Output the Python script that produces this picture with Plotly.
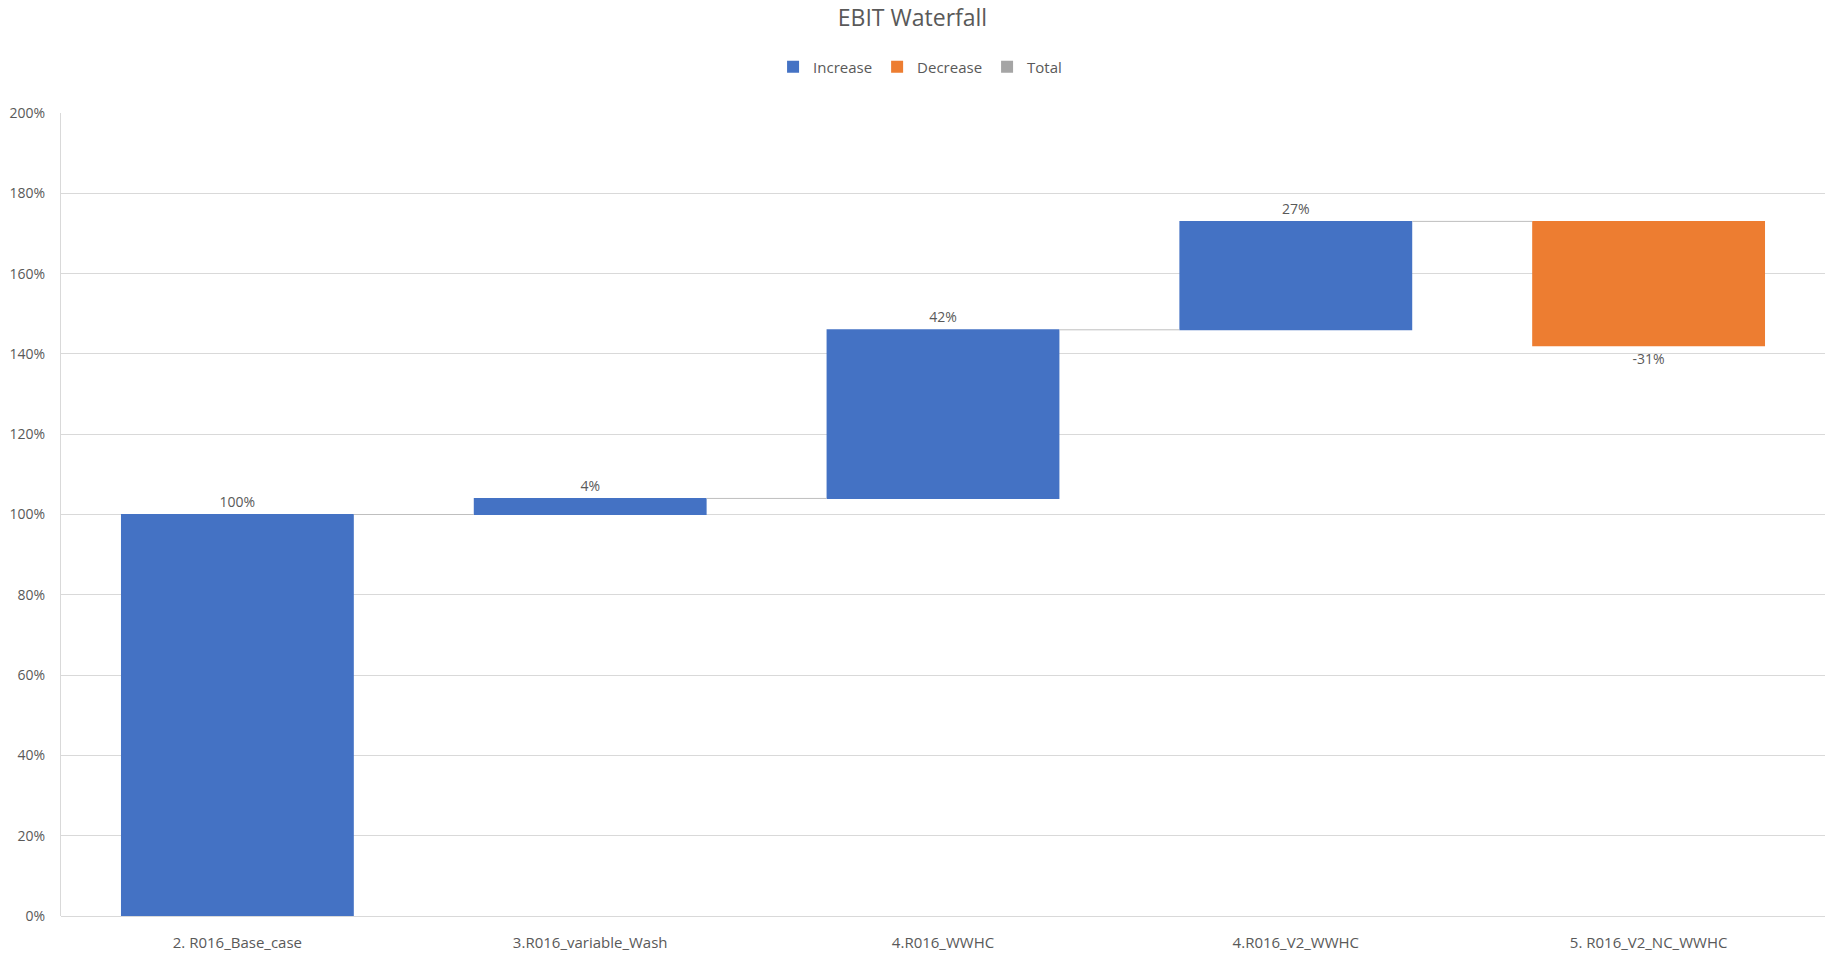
import plotly.graph_objects as go

# EBIT bridge: base case followed by scenario deltas (in %)
categories = ["2. R016_Base_case", "3.R016_variable_Wash", "4.R016_WWHC",
              "4.R016_V2_WWHC", "5. R016_V2_NC_WWHC"]
deltas = [100, 4, 42, 27, -31]
measures = ["relative", "relative", "relative", "relative", "relative"]
labels = [f"{v}%" for v in deltas]

legend_names = ["Increase", "Decrease", "Total"]
legend_colors = ["#4472C4", "#ED7D31", "#A5A5A5"]

FONT = "'Open Sans', Lato, sans-serif"
TEXT_GREY = "#595959"
GRID = "#D9D9D9"

fig = go.Figure()

fig.add_trace(go.Waterfall(
    x=categories,
    y=deltas,
    measure=measures,
    text=labels,
    textposition="outside",
    textfont=dict(family=FONT, size=14, color=TEXT_GREY),
    increasing=dict(marker=dict(color=legend_colors[0])),
    decreasing=dict(marker=dict(color=legend_colors[1])),
    totals=dict(marker=dict(color=legend_colors[2])),
    connector=dict(line=dict(color="#BFBFBF", width=1)),
    showlegend=False,
    hoverinfo="x+text",
    cliponaxis=False,
))

# legend keys in the style of the spreadsheet chart
for name, color in zip(legend_names, legend_colors):
    fig.add_trace(go.Scatter(
        x=[None], y=[None], mode="markers", name=name,
        marker=dict(symbol="square", size=12, color=color),
    ))

fig.update_layout(
    width=1825, height=954,
    paper_bgcolor="white", plot_bgcolor="white",
    margin=dict(l=61, r=0, t=113, b=38),
    waterfallgap=0.34,
    font=dict(family=FONT, color=TEXT_GREY, size=14),
    title=dict(text="EBIT Waterfall", x=0.5, xanchor="center",
               yref="container", y=1 - 18 / 954, yanchor="middle",
               font=dict(family=FONT, size=23, color=TEXT_GREY)),
    legend=dict(orientation="h", x=0.487, xanchor="center",
                yref="container", y=1 - 67 / 954, yanchor="middle",
                font=dict(family=FONT, size=15, color=TEXT_GREY),
                itemwidth=30, tracegroupgap=0),
    xaxis=dict(type="category", showgrid=False, showline=False,
               ticks="", ticklabelstandoff=16,
               tickfont=dict(family=FONT, size=15, color=TEXT_GREY)),
    yaxis=dict(range=[0, 200], dtick=20, ticksuffix="%",
               showgrid=True, gridcolor=GRID, gridwidth=1,
               zeroline=True, zerolinecolor=GRID, zerolinewidth=1,
               showline=True, linecolor=GRID, linewidth=1,
               ticks="", ticklabelstandoff=12,
               tickfont=dict(family=FONT, size=14, color=TEXT_GREY)),
)

fig.write_html("out.html")
